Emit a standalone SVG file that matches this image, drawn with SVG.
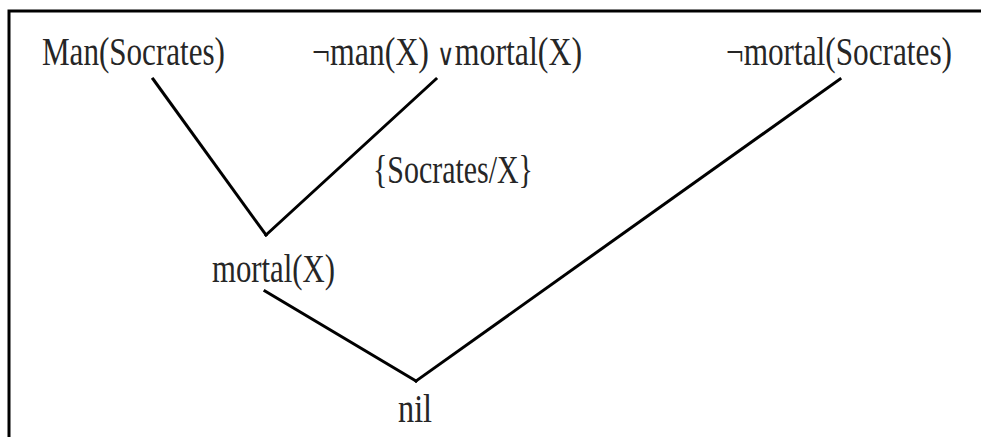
<svg xmlns="http://www.w3.org/2000/svg" width="981" height="437" viewBox="0 0 981 437">
<style>
.t{font-family:'Liberation Serif','Times New Roman',serif;font-size:40px;fill:#262626}
.v{font-family:'DejaVu Sans',sans-serif;font-weight:200;font-size:30px}
.c{stroke:#000;stroke-width:3;fill:none;stroke-linecap:square}
</style>
<rect width="981" height="437" fill="#fff"/>
<path d="M9,437 V11 H981" stroke="#000" stroke-width="3" fill="none"/>
<g id="connectors">
<line class="c" x1="153" y1="79" x2="266" y2="235"/>
<line class="c" x1="436" y1="79" x2="266" y2="235"/>
<line class="c" x1="265" y1="291" x2="416" y2="381"/>
<line class="c" x1="840" y1="79" x2="416" y2="381"/>
</g>
<g id="n-man" transform="scale(0.78,1)"><text class="t" x="53.8" y="65" textLength="234.6" lengthAdjust="spacingAndGlyphs">Man(Socrates)</text></g>
<g id="n-clause" transform="scale(0.78,1)"><text class="t" x="400" y="65" textLength="346.2" lengthAdjust="spacingAndGlyphs">¬man(X) <tspan class="v">∨</tspan>mortal(X)</text></g>
<g id="n-neg" transform="scale(0.78,1)"><text class="t" x="930.8" y="65" textLength="289.7" lengthAdjust="spacingAndGlyphs">¬mortal(Socrates)</text></g>
<g id="n-subst" transform="scale(0.78,1)"><text class="t" x="478.2" y="183" textLength="205.1" lengthAdjust="spacingAndGlyphs">{Socrates/X}</text></g>
<g id="n-mortal" transform="scale(0.78,1)"><text class="t" x="271.8" y="282" textLength="157.7" lengthAdjust="spacingAndGlyphs">mortal(X)</text></g>
<g id="n-nil" transform="scale(0.78,1)"><text class="t" x="510.3" y="422" textLength="43.6" lengthAdjust="spacingAndGlyphs">nil</text></g>
</svg>
